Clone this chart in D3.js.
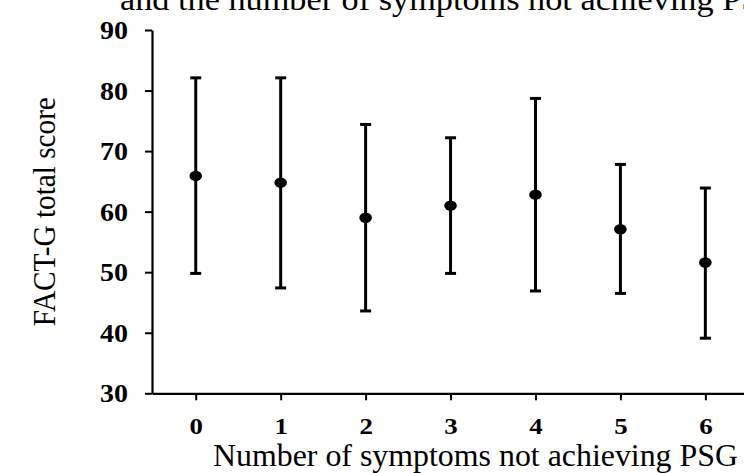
<!DOCTYPE html>
<html>
<head>
<meta charset="utf-8">
<script src="https://cdn.jsdelivr.net/npm/d3@7"></script>
<style>
html,body{margin:0;padding:0;background:#fff;}
svg{display:block;}
text{font-family:"Liberation Serif","Times New Roman",serif;fill:#000;}
</style>
</head>
<body>
<svg id="chart" width="744" height="473"></svg>
<script>
const categories = [0, 1, 2, 3, 4, 5, 6];
const means = [65.9, 64.8, 59.0, 61.0, 62.8, 57.1, 51.6];
const upper = [82.1, 82.1, 74.4, 72.2, 78.7, 67.8, 63.9];
const lower = [49.8, 47.4, 43.6, 49.8, 46.9, 46.5, 39.1];
const yTicks = [30, 40, 50, 60, 70, 80, 90];
const titleText = "and the number of symptoms not achieving PSG";
const xLabel = "Number of symptoms not achieving PSG";
const yLabel = "FACT-G total score";

const svg = d3.select("#chart");
const x = d3.scaleLinear().domain([-0.515, 6.455]).range([152, 744]);
const y = d3.scaleLinear().domain([30, 90]).range([393.3, 30]);

// title (cut off at top, as in the reference)
svg.append("text")
  .attr("x", 120).attr("y", 10)
  .attr("font-size", 32)
  .attr("textLength", 665).attr("lengthAdjust", "spacingAndGlyphs")
  .text(titleText);

// Y axis
const gy = svg.append("g").attr("transform", "translate(152,0)")
  .call(d3.axisLeft(y).tickValues(yTicks).tickSize(7).tickSizeOuter(0).tickPadding(17));
gy.select(".domain").attr("stroke", "#000").attr("stroke-width", 2.2);
gy.selectAll(".tick line").attr("stroke", "#000").attr("stroke-width", 2);
gy.selectAll(".tick text")
  .attr("font-weight", "bold").attr("font-size", 25)
  .attr("dy", "0.34em")
  .attr("transform", "scale(1.12,1)")
  .attr("x", -24 / 1.12);

// X axis
const gx = svg.append("g").attr("transform", "translate(0,393.3)")
  .call(d3.axisBottom(x).tickValues(categories).tickSize(7).tickSizeOuter(0).tickPadding(12).tickFormat(d3.format("d")));
gx.select(".domain").attr("stroke", "#000").attr("stroke-width", 2.2);
gx.selectAll(".tick line").attr("stroke", "#000").attr("stroke-width", 2);
gx.selectAll(".tick text")
  .attr("font-weight", "bold").attr("font-size", 24)
  .attr("dy", null).attr("y", 40.5)
  .attr("transform", "scale(1.12,1)");

// axis labels
svg.append("text")
  .attr("x", 213).attr("y", 466)
  .attr("font-size", 32)
  .attr("textLength", 525).attr("lengthAdjust", "spacingAndGlyphs")
  .text(xLabel);

svg.append("text")
  .attr("transform", "translate(55," + y(60) + ") rotate(-90)")
  .attr("text-anchor", "middle")
  .attr("font-size", 32)
  .attr("textLength", 229).attr("lengthAdjust", "spacingAndGlyphs")
  .text(yLabel);

// error bars
const data = categories.map((c, i) => ({c, m: means[i], hi: upper[i], lo: lower[i]}));
const g = svg.append("g");
g.selectAll(".bar").data(data).enter().append("line")
  .attr("x1", d => x(d.c)).attr("x2", d => x(d.c))
  .attr("y1", d => y(d.hi)).attr("y2", d => y(d.lo))
  .attr("stroke", "#000").attr("stroke-width", 3);
g.selectAll(".capH").data(data).enter().append("line")
  .attr("x1", d => x(d.c) - 5.5).attr("x2", d => x(d.c) + 5.5)
  .attr("y1", d => y(d.hi)).attr("y2", d => y(d.hi))
  .attr("stroke", "#000").attr("stroke-width", 3);
g.selectAll(".capL").data(data).enter().append("line")
  .attr("x1", d => x(d.c) - 5.5).attr("x2", d => x(d.c) + 5.5)
  .attr("y1", d => y(d.lo)).attr("y2", d => y(d.lo))
  .attr("stroke", "#000").attr("stroke-width", 3);
g.selectAll(".pt").data(data).enter().append("ellipse")
  .attr("cx", d => x(d.c)).attr("cy", d => y(d.m))
  .attr("rx", 6.3).attr("ry", 5.2)
  .attr("fill", "#000");
</script>
</body>
</html>
